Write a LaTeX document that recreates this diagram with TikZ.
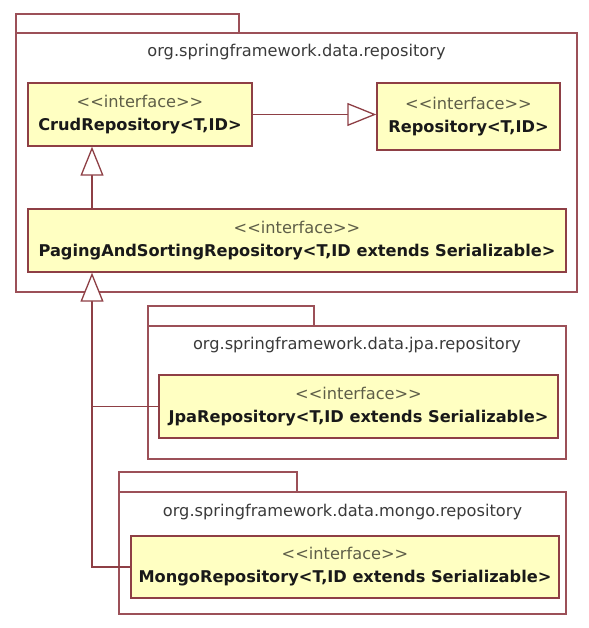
\documentclass[tikz,border=0pt]{standalone}
\usepackage{fontspec}
\setmainfont{DejaVu Sans}
\usetikzlibrary{arrows.meta}
\definecolor{boxfill}{HTML}{FFFFC2}
\definecolor{boxline}{HTML}{8E3F45}
\definecolor{pkgline}{HTML}{9C5058}
\definecolor{pkgtext}{HTML}{3A3A3A}
\definecolor{stereo}{HTML}{5E5E48}
\newcommand\stereotxt{{\color{stereo}<{}<interface>{}>}}
\tikzset{
  x=1pt, y=1pt,
  umlbox/.style={draw=boxline, fill=boxfill, line width=1.4pt, inner sep=0pt,
    align=center, font=\fontsize{16.2}{23}\selectfont, text=black!90},
  pkgbody/.style={draw=pkgline, line width=1.2pt},
  pkglabel/.style={text=pkgtext, font=\fontsize{16.2}{18}\selectfont, anchor=center},
  inh/.style={draw=boxline, line width=1.3pt,
    -{Triangle[open, length=29pt, width=23pt, fill=white]}},
  conn/.style={draw=boxline, line width=1.3pt}
}
\begin{document}
\begin{tikzpicture}
\useasboundingbox (0,0) rectangle (588,-628);
% package 1
\draw[pkgbody] (16,-33) rectangle (239,-14);
\draw[pkgbody] (16,-33) rectangle (577,-292);
\node[pkglabel] (p1) at (296.5,-52) {org.springframework.data.repository};
% package jpa
\draw[pkgbody] (148,-326) rectangle (314,-306);
\draw[pkgbody] (148,-326) rectangle (566,-459);
\node[pkglabel] (p2) at (357,-345) {org.springframework.data.jpa.repository};
% package mongo
\draw[pkgbody] (119,-492) rectangle (297,-472);
\draw[pkgbody] (119,-492) rectangle (566,-614);
\node[pkglabel] (p3) at (342.5,-512) {org.springframework.data.mongo.repository};
% classes
\node[umlbox, minimum width=224pt, minimum height=63pt] (crud) at (140,-114.5)
  {\stereotxt\\\textbf{CrudRepository<T,ID>}};
\node[umlbox, minimum width=183pt, minimum height=67pt] (repo) at (468.5,-116.5)
  {\stereotxt\\\textbf{Repository<T,ID>}};
\node[umlbox, minimum width=538pt, minimum height=63pt] (paging) at (297,-240.5)
  {\stereotxt\\\textbf{PagingAndSortingRepository<T,ID extends Serializable>}};
\node[umlbox, minimum width=399pt, minimum height=63pt] (jpa) at (358.5,-406.5)
  {\stereotxt\\\textbf{JpaRepository<T,ID extends Serializable>}};
\node[umlbox, minimum width=428pt, minimum height=62pt] (mongo) at (345,-567)
  {\stereotxt\\\textbf{MongoRepository<T,ID extends Serializable>}};
% connectors
\coordinate (xl) at (92,0);
\draw[inh] (crud.east) -- (repo.west |- crud.east);
\draw[inh] (paging.north -| xl) -- (crud.south -| xl);
\draw[inh] (mongo.west) -| (paging.south -| xl);
\draw[conn] (jpa.west) -- (jpa.west -| xl);
\end{tikzpicture}
\end{document}
